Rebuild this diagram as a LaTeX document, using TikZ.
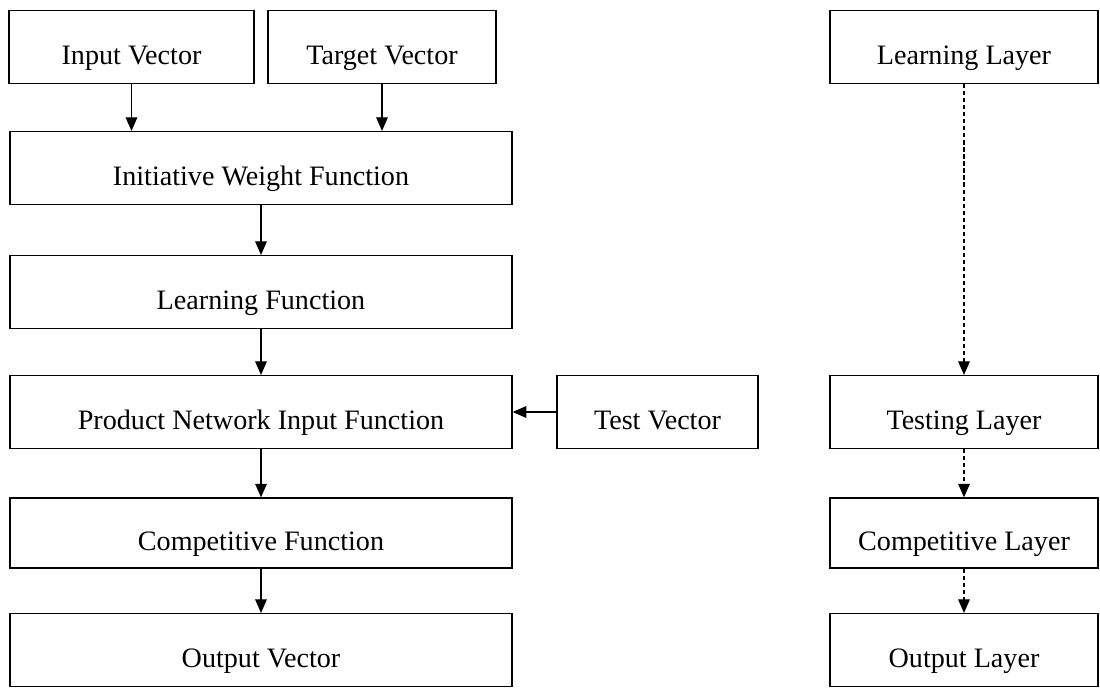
\documentclass[tikz,border=0pt]{standalone}
\usepackage{fontspec}
\setmainfont{Liberation Serif}
\usetikzlibrary{arrows.meta}

\begin{document}
\begin{tikzpicture}[x=0.025cm,y=-0.025cm,
    box/.style={draw, line width=0.9pt, minimum height=1.82cm, inner sep=0pt,
                text height=25pt, text depth=0pt,
                font=\fontsize{20}{24}\selectfont},
    wide/.style={box, minimum width=12.55cm},
    side/.style={box, minimum width=6.7cm},
    flow/.style={-{Triangle[length=3.4mm,width=2.9mm]}, line width=0.9pt},
    dflow/.style={flow, densely dashed}]
        \useasboundingbox (0,0) rectangle (1100,688);

        % left column
        \node[box, minimum width=6.12cm] (inp) at (131.5,47) {Input Vector};
        \node[box, minimum width=5.7cm] (tgt) at (382,47) {Target Vector};
        \node[wide] (iwf) at (261,168) {Initiative Weight Function};
        \node[wide] (lf) at (261,292) {Learning Function};
        \node[wide] (pnif) at (261,412) {Product Network Input Function};
        \node[box, minimum width=5.02cm] (tv) at (657.5,412) {Test Vector};
        \node[wide, minimum height=1.75cm] (cf) at (261,533) {Competitive Function};
        \node[wide] (ov) at (261,650) {Output Vector};

        \draw[flow] (inp) -- (inp |- iwf.north);
        \draw[flow] (tgt) -- (tgt |- iwf.north);
        \draw[flow] (iwf) -- (lf);
        \draw[flow] (lf) -- (pnif);
        \draw[flow] (tv) -- (pnif);
        \draw[flow] (pnif) -- (cf);
        \draw[flow] (cf) -- (ov);

        % right column
        \node[side] (ll) at (964,47) {Learning Layer};
        \node[side] (tl) at (964,412) {Testing Layer};
        \node[side, minimum height=1.75cm] (cl) at (964,533) {Competitive Layer};
        \node[side] (ol) at (964,650) {Output Layer};

        \draw[dflow] (ll) -- (tl);
        \draw[dflow] (tl) -- (cl);
        \draw[dflow] (cl) -- (ol);
\end{tikzpicture}
\end{document}
